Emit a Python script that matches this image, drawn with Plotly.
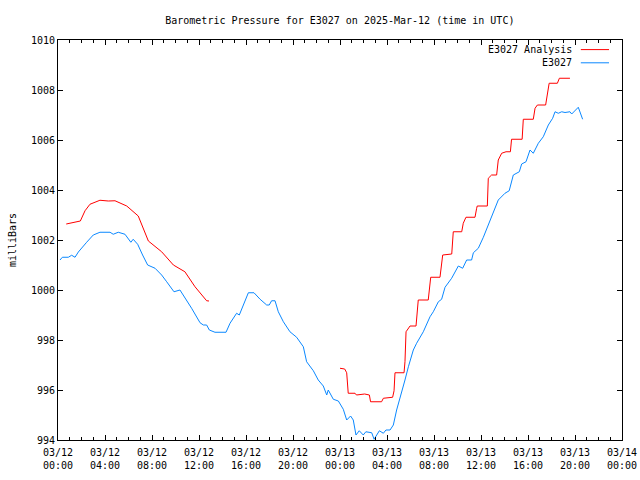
import pandas as pd
import plotly.graph_objects as go

# Hours after 2025-03-12 00:00 UTC and pressure (mbar)
analysis_hours = [0.7, 1.9, 2.3, 2.72, 3.57, 4.28, 4.85, 5.85, 6.83, 7.69, 8.82, 9.82, 10.8, 11.66, 12.65, 12.85,
                  None,
                  24.0, 24.4, 24.57, 24.62, 24.7, 25.28, 25.4, 26.1, 26.5, 26.6, 27.54, 27.69, 28.48, 28.6, 28.68,
                  29.45, 29.53, 29.62, 29.96, 30.47, 30.58, 30.66, 31.51, 31.66, 31.72, 32.51, 32.65, 32.74,
                  33.51, 33.59, 33.64, 34.36, 34.49, 34.72, 35.49, 35.63, 35.68, 36.54, 36.62, 36.9, 37.33,
                  37.47, 37.76, 38.13, 38.5, 38.6, 39.5, 39.6, 40.45, 40.6, 40.8, 41.5, 41.6, 41.8, 42.5,
                  42.67, 43.57]
analysis_mb = [1002.64, 1002.76, 1003.17, 1003.43, 1003.59, 1003.56, 1003.57, 1003.36, 1002.96, 1001.96, 1001.53,
               1001.0, 1000.73, 1000.13, 999.57, 999.56,
               None,
               996.87, 996.84, 996.69, 996.13, 995.87, 995.87, 995.8, 995.84, 995.8, 995.53, 995.53, 995.67,
               995.71, 995.97, 996.69, 996.69, 997.13, 998.33, 998.56, 998.56, 999.33, 999.6, 999.6, 1000.27,
               1000.51, 1000.51, 1001.2, 1001.4, 1001.44, 1002.13, 1002.33, 1002.33, 1002.67, 1002.91, 1002.91,
               1003.27, 1003.36, 1003.36, 1004.47, 1004.6, 1004.6, 1005.2, 1005.47, 1005.53, 1005.53, 1006.03,
               1006.03, 1006.83, 1006.83, 1007.27, 1007.4, 1007.4, 1007.73, 1008.27, 1008.27, 1008.47, 1008.47]

obs_hours = [0.17, 0.37, 0.88, 1.16, 1.45, 1.73, 2.44, 3.0, 3.57, 4.43, 4.7, 5.13, 5.7, 6.2, 6.4, 6.78, 7.2,
             7.63, 8.26, 8.82, 9.25, 9.87, 10.38, 10.95, 11.37, 12.09, 12.37, 12.65, 12.88, 13.36, 14.3, 14.64,
             15.2, 15.43, 15.77, 16.2, 16.68, 17.2, 17.76, 17.98, 18.18, 18.47, 18.75, 19.18, 19.74, 20.31,
             20.88, 21.16, 21.73, 22.15, 22.58, 22.87, 23.0, 23.43, 23.86, 24.28, 24.57, 24.9, 25.13, 25.36,
             25.64, 25.98, 26.2, 26.7, 26.9, 27.35, 27.69, 27.91, 28.26, 28.54, 28.82, 29.25, 29.53, 29.82,
             30.24, 30.52, 31.09, 31.66, 31.94, 32.37, 32.65, 32.94, 33.5, 34.07, 34.44, 34.78, 35.2, 35.35,
             35.77, 36.2, 36.77, 37.47, 38.04, 38.4, 38.75, 39.26, 39.46, 39.83, 40.17, 40.45, 40.88, 41.3,
             41.73, 42.1, 42.3, 42.58, 42.87, 43.15, 43.57, 43.72, 44.28, 44.65]
obs_mb = [1001.2, 1001.31, 1001.31, 1001.39, 1001.31, 1001.52, 1001.91, 1002.2, 1002.31, 1002.31, 1002.23,
          1002.31, 1002.23, 1001.91, 1002.03, 1001.83, 1001.4, 1001.0, 1000.87, 1000.6, 1000.33, 999.93,
          1000.0, 999.6, 999.27, 998.69, 998.6, 998.6, 998.4, 998.31, 998.31, 998.67, 999.07, 999.0, 999.4,
          999.89, 999.89, 999.63, 999.4, 999.4, 999.57, 999.57, 999.13, 998.73, 998.33, 998.11, 997.73,
          997.13, 996.77, 996.4, 996.16, 995.8, 996.0, 995.63, 995.56, 995.23, 994.8, 994.96, 994.8, 994.2,
          994.37, 994.2, 994.33, 994.29, 994.03, 994.37, 994.27, 994.4, 994.4, 994.6, 995.2, 995.87, 996.4,
          996.93, 997.6, 997.87, 998.33, 998.93, 999.13, 999.53, 999.63, 1000.11, 1000.47, 1000.96, 1000.87,
          1001.2, 1001.2, 1001.49, 1001.67, 1002.11, 1002.8, 1003.6, 1003.87, 1003.97, 1004.6, 1004.73,
          1005.04, 1005.13, 1005.6, 1005.47, 1005.87, 1006.13, 1006.6, 1006.87, 1007.13, 1007.07, 1007.13,
          1007.1, 1007.13, 1007.04, 1007.31, 1006.83]

start = pd.Timestamp("2025-03-12 00:00")
def to_time(hours):
    return [None if h is None else start + pd.Timedelta(hours=h) for h in hours]

FONT = "DejaVu Sans Mono"
FS = 10
RED = "#ff0000"
BLUE = "#0a88ff"

fig = go.Figure()
fig.add_trace(go.Scatter(x=to_time(analysis_hours), y=analysis_mb, mode="lines",
                         line=dict(color=RED, width=1), name="E3027 Analysis", connectgaps=False))
fig.add_trace(go.Scatter(x=to_time(obs_hours), y=obs_mb, mode="lines",
                         line=dict(color=BLUE, width=1), name="E3027"))

fig.update_layout(
    width=640, height=480,
    margin=dict(l=58, r=18, t=40, b=40, autoexpand=False),
    paper_bgcolor="white", plot_bgcolor="white",
    showlegend=False,
    font=dict(family=FONT, size=FS, color="black"),
    title=dict(text="Barometric Pressure for E3027 on 2025-Mar-12 (time in UTC)",
               x=0.531, xanchor="center", y=0.958, yanchor="middle",
               font=dict(family=FONT, size=FS, color="black")),
    xaxis=dict(range=[start, start + pd.Timedelta(hours=48)], tickmode="linear",
               tick0=start, dtick=4 * 3600000, tickformat="%m/%d<br>%H:%M",
               ticks="inside", ticklen=5, tickcolor="black", showline=True, linecolor="black",
               linewidth=1, mirror="allticks", showgrid=False, zeroline=False, automargin=False,
               ticklabelstandoff=3,
               minor=dict(dtick=3600000, ticks="inside", ticklen=3, tickcolor="black", showgrid=False),
               tickfont=dict(family=FONT, size=FS)),
    yaxis=dict(range=[994, 1010], dtick=2, ticks="inside", ticklen=5, tickcolor="black",
               showline=True, linecolor="black", linewidth=1, mirror="allticks", automargin=False,
               showgrid=False, zeroline=False, tickfont=dict(family=FONT, size=FS),
               title=dict(text="milliBars", font=dict(family=FONT, size=FS), standoff=12)),
)

# legend in gnuplot style (text left of line sample)
legend_items = [("E3027 Analysis", RED, 0.976), ("E3027", BLUE, 0.943)]
for label, color, yy in legend_items:
    fig.add_annotation(xref="paper", yref="paper", x=0.915, y=yy, text=label, showarrow=False,
                       xanchor="right", yanchor="middle", font=dict(family=FONT, size=FS, color="black"))
    fig.add_shape(type="line", xref="paper", yref="paper", x0=0.927, x1=0.977, y0=yy, y1=yy,
                  line=dict(color=color, width=1))

fig.write_html("out.html", config={"displayModeBar": False},
               post_script="document.body.style.margin='0';document.body.style.overflow='hidden';")
